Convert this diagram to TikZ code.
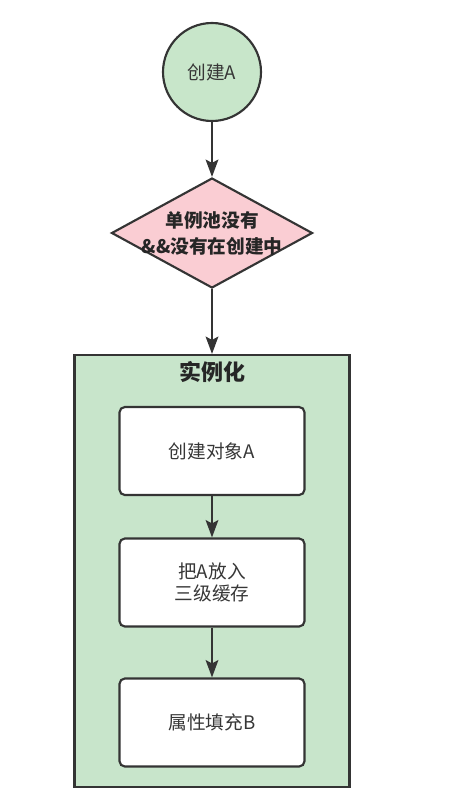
\documentclass[tikz,border=0pt]{standalone}
\usepackage{fontspec}
\newfontfamily\cjk{Noto Sans CJK SC}
\usetikzlibrary{arrows.meta,shapes.geometric}
\definecolor{startgreen}{RGB}{200,230,202}
\definecolor{checkpink}{RGB}{250,205,211}
\definecolor{groupgreen}{RGB}{200,229,203}
\definecolor{edgegray}{RGB}{52,52,52}
\definecolor{textgray}{RGB}{55,55,55}

\begin{document}
\begin{tikzpicture}[x=0.75pt,y=0.75pt,yscale=-1,xscale=1,
        every node/.style={font=\cjk\fontsize{14}{17}\selectfont, text=textgray},
        flowline/.style={draw=edgegray, line width=1.6pt},
        arr/.style={flowline, -{Stealth[length=13pt,width=9.5pt,inset=2.5pt]}},
        stepbox/.style={flowline, fill=white, rounded corners=4pt, minimum width=138.75pt, minimum height=66pt, align=center}]
        \useasboundingbox (0,0) rectangle (452,810);

        %Shape: Circle [start]
        \node [circle, flowline, fill=startgreen, minimum size=73.5pt, inner sep=0pt] (start) at (212,72) {创建A};
        %Shape: Diamond [check]
        \node [diamond, flowline, fill=checkpink, minimum width=150.75pt, minimum height=82.5pt, inner sep=0pt] (check) at (212,233) {};
        \node [font=\cjk\bfseries\fontsize{14}{19.5}\selectfont, align=center, text=black!85] (checktext) at (check) {单例池没有\\\&\&没有在创建中};
        %Shape: Rectangle [group]
        \node [flowline, fill=groupgreen, minimum width=206.25pt, minimum height=324pt, inner sep=0pt] (group) at (212,571) {};
        \node [font=\cjk\bfseries\fontsize{16.5}{20}\selectfont, text=black!85] (grouptitle) at (212,372) {实例化};
        %Shape: Rounded Rect [steps]
        \node [stepbox] (create) at (212,451) {创建对象A};
        \node [stepbox] (cache) at (212,582.5) {把A放入\\三级缓存};
        \node [stepbox] (fill) at (212,722.5) {属性填充B};

        %Straight Lines [arrows]
        \draw [arr] (start) -- (check);
        \draw [arr] (check) -- (group);
        \draw [arr] (create) -- (cache);
        \draw [arr] (cache) -- (fill);

    \end{tikzpicture}
\end{document}
